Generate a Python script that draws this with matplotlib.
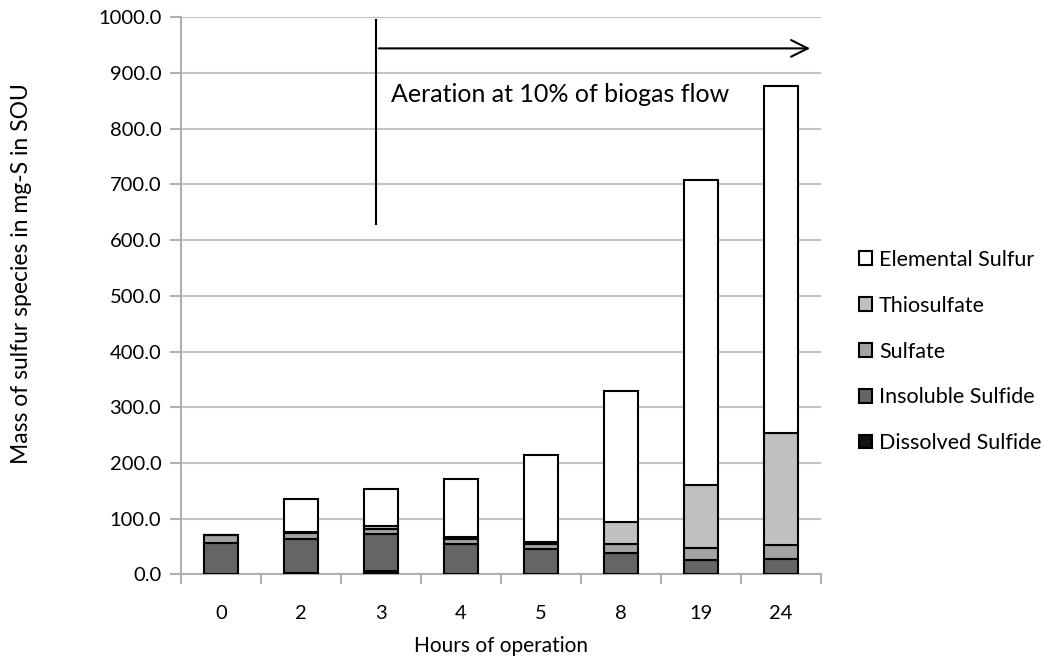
import matplotlib.pyplot as plt
import numpy as np

plt.rcParams['font.family'] = ['Lato', 'DejaVu Sans']

hours = ['0', '2', '3', '4', '5', '8', '19', '24']

# stacked from bottom to top, mg-S
dissolved = [1, 3, 7, 1, 1, 1, 1, 1]
insoluble = [56, 61, 65, 54, 44, 38, 24, 27]
sulfate = [14, 10, 10, 8, 10, 16, 22, 24]
thiosulfate = [0, 2, 4, 4, 4, 39, 114, 202]
elemental = [0, 59, 67, 104, 156, 236, 547, 622]

series = [
    ('Dissolved Sulfide', dissolved, '#111111'),
    ('Insoluble Sulfide', insoluble, '#656565'),
    ('Sulfate', sulfate, '#a3a3a3'),
    ('Thiosulfate', thiosulfate, '#c0c0c0'),
    ('Elemental Sulfur', elemental, '#ffffff'),
]

fig = plt.figure(figsize=(10.51, 6.61), dpi=100)
ax = fig.add_axes([0.172, 0.131, 0.609, 0.843])

x = np.arange(len(hours))
bottom = np.zeros(len(hours))
handles = []
for name, vals, col in series:
    vals = np.array(vals, dtype=float)
    b = ax.bar(x, vals, 0.42, bottom=bottom, color=col, edgecolor='black',
               linewidth=1.5, label=name, zorder=3)
    handles.append(b)
    bottom += vals

ax.set_xlim(-0.5, len(hours) - 0.5)
ax.set_ylim(0, 1000)
ax.set_yticks(np.arange(0, 1001, 100))
ax.set_yticklabels([f'{v:.1f}' for v in np.arange(0, 1001, 100)], fontsize=14.5)
ax.set_xticks(x)
ax.set_xticklabels(hours, fontsize=14.5)
ax.set_xticks(np.arange(-0.5, len(hours), 1), minor=True)
ax.tick_params(axis='x', which='major', length=0, pad=22)
ax.tick_params(axis='x', which='minor', length=7, color='#b0b0b0', width=1.5)
ax.tick_params(axis='y', length=8, color='#b0b0b0', width=1.5, pad=6)
ax.grid(axis='y', color='#c4c4c4', linewidth=1.5, zorder=0)

for s in ['top', 'right']:
    ax.spines[s].set_visible(False)
for s in ['left', 'bottom']:
    ax.spines[s].set_color('#b0b0b0')
    ax.spines[s].set_linewidth(1.5)

ax.set_xlabel('Hours of operation', fontsize=15, labelpad=10)
ax.set_ylabel('Mass of sulfur species in mg-S in SOU', fontsize=16.5)
ax.yaxis.set_label_coords(-0.232, 0.54)

# aeration annotation
ax.plot([1.94, 1.94], [629, 995], color='black', linewidth=1.5, zorder=4)
ax.annotate('', xy=(7.4, 944), xytext=(1.94, 944),
            arrowprops=dict(arrowstyle='->', color='black', lw=1.5,
                            mutation_scale=30), zorder=4)
ax.text(2.13, 862, 'Aeration at 10% of biogas flow', fontsize=18,
        va='center', ha='left')

leg = ax.legend(handles[::-1], [s[0] for s in series][::-1],
                loc='center left', bbox_to_anchor=(1.03, 0.4), frameon=False,
                fontsize=15.5, labelspacing=1.2, handlelength=0.6,
                handleheight=0.6, handletextpad=0.3)

fig.savefig('out.png', dpi=100)
